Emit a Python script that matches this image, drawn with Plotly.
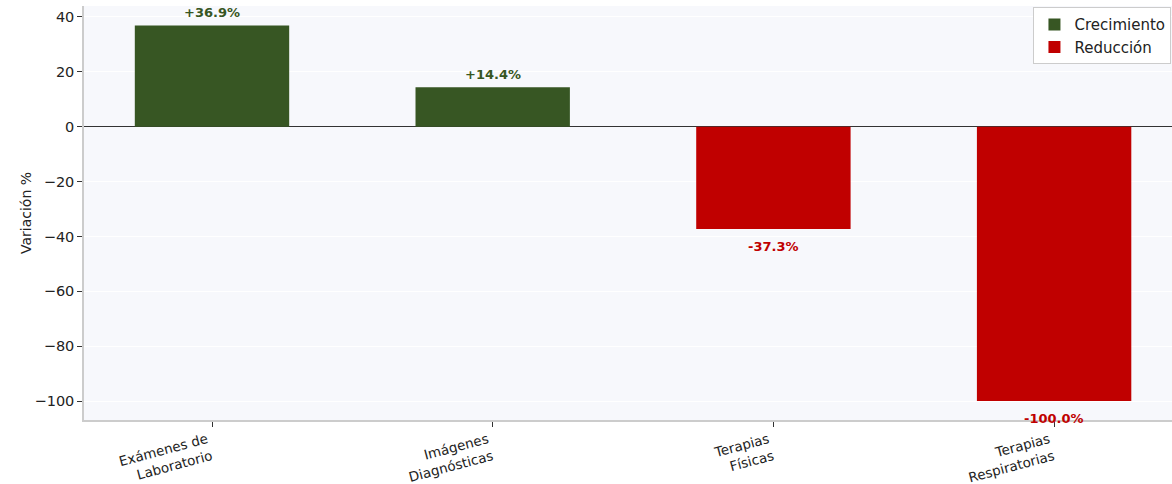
import plotly.graph_objects as go

categories = ["Exámenes de<br>Laboratorio", "Imágenes<br>Diagnósticas", "Terapias<br>Físicas", "Terapias<br>Respiratorias"]
values = [36.9, 14.4, -37.3, -100.0]
labels = ["+36.9%", "+14.4%", "-37.3%", "-100.0%"]

GREEN = "#375623"
RED = "#C00000"

xs = list(range(len(categories)))
grow_x = [x for x, v in zip(xs, values) if v >= 0]
grow_y = [v for v in values if v >= 0]
red_x = [x for x, v in zip(xs, values) if v < 0]
red_y = [v for v in values if v < 0]

fig = go.Figure()
fig.add_trace(go.Bar(x=grow_x, y=grow_y, name="Crecimiento", marker_color=GREEN,
                     marker_line_width=0, width=0.55))
fig.add_trace(go.Bar(x=red_x, y=red_y, name="Reducción", marker_color=RED,
                     marker_line_width=0, width=0.55))

for x, v, t in zip(xs, values, labels):
    col = GREEN if v >= 0 else RED
    fig.add_annotation(x=x, y=v, text=f"<b>{t}</b>", showarrow=False,
                       yanchor="middle", yshift=13 if v >= 0 else -17.5,
                       font=dict(color=col, size=13, family="DejaVu Sans"))

fig.update_layout(
    width=1172, height=484,
    margin=dict(l=84, r=0, t=6, b=64, autoexpand=False),
    paper_bgcolor="white",
    plot_bgcolor="#f7f8fc",
    barmode="overlay",
    font=dict(family="DejaVu Sans", size=13, color="#222"),
    legend=dict(x=0.9995, y=0.997, xanchor="right", yanchor="top",
                bgcolor="white", bordercolor="#cccccc", borderwidth=1,
                font=dict(size=15), itemwidth=30, tracegroupgap=0),
    xaxis=dict(range=[-0.456, 3.42], tickmode="array", tickvals=xs, ticktext=categories,
               tickangle=-15, ticks="outside", ticklen=5, tickcolor="#333",
               showgrid=False, showline=True, linecolor="#cccccc", linewidth=1.5,
               zeroline=False, tickfont=dict(size=13.5), automargin=False,
               ticklabelshift=-5, ticklabelstandoff=0),
    yaxis=dict(range=[-106.9, 44], tickvals=[40, 20, 0, -20, -40, -60, -80, -100],
               ticktext=["40", "20", "0", "−20", "−40", "−60", "−80", "−100"],
               ticks="outside", ticklen=5, tickcolor="#333",
               showgrid=True, gridcolor="white", gridwidth=1.2,
               showline=True, linecolor="#cccccc", linewidth=1.5,
               zeroline=True, zerolinecolor="#333333", zerolinewidth=1.2,
               title=dict(text="Variación %", standoff=0, font=dict(size=14)),
               tickfont=dict(size=14.5), automargin=False),
)

fig.write_html("out.html", config={"displayModeBar": False},
               post_script="document.body.style.margin='0';document.body.style.padding='0';document.body.style.overflow='hidden';")
